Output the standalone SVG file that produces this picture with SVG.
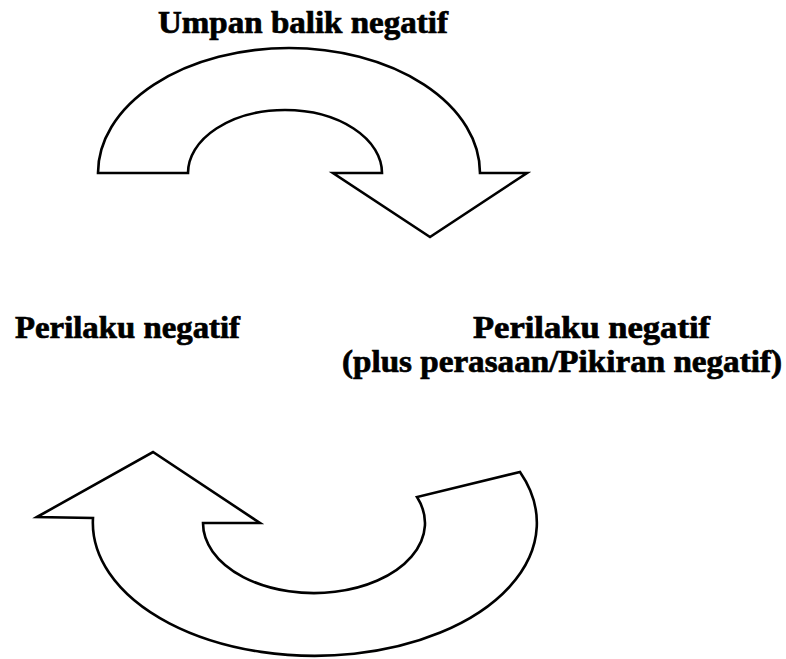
<svg xmlns="http://www.w3.org/2000/svg" width="786" height="659" viewBox="0 0 786 659">
<style>
.lbl{font-family:"Liberation Serif","Times New Roman",serif;font-weight:bold;font-size:31px;fill:#000;stroke:#000;stroke-width:0.7}
.arrow{fill:#fff;stroke:#000;stroke-width:2.6;stroke-linejoin:miter}
</style>
<rect width="786" height="659" fill="#fff"/>
<g id="connectors">
<path id="arrow-top" class="arrow" d="M 98 173 A 191 125 0 0 1 480 173 L 527 173 L 430 237 L 333 173 L 382 173 A 97 63 0 0 0 188 173 Z"/>
<path id="arrow-bottom" class="arrow" d="M 37 517 L 153 452 L 260 523 L 203 523 A 111 70 0 1 0 417 497 L 520 472 A 222 133 0 1 1 93 518 Z"/>
</g>
<g id="title"><text class="lbl" x="158" y="33" textLength="290" lengthAdjust="spacingAndGlyphs">Umpan balik negatif</text></g>
<g id="node-left"><text class="lbl" x="15" y="338" textLength="225" lengthAdjust="spacingAndGlyphs">Perilaku negatif</text></g>
<g id="node-right">
<text class="lbl" x="473" y="338" textLength="237" lengthAdjust="spacingAndGlyphs">Perilaku negatif</text>
<text class="lbl" x="342" y="372" textLength="440" lengthAdjust="spacingAndGlyphs">(plus perasaan/Pikiran negatif)</text>
</g>
</svg>
